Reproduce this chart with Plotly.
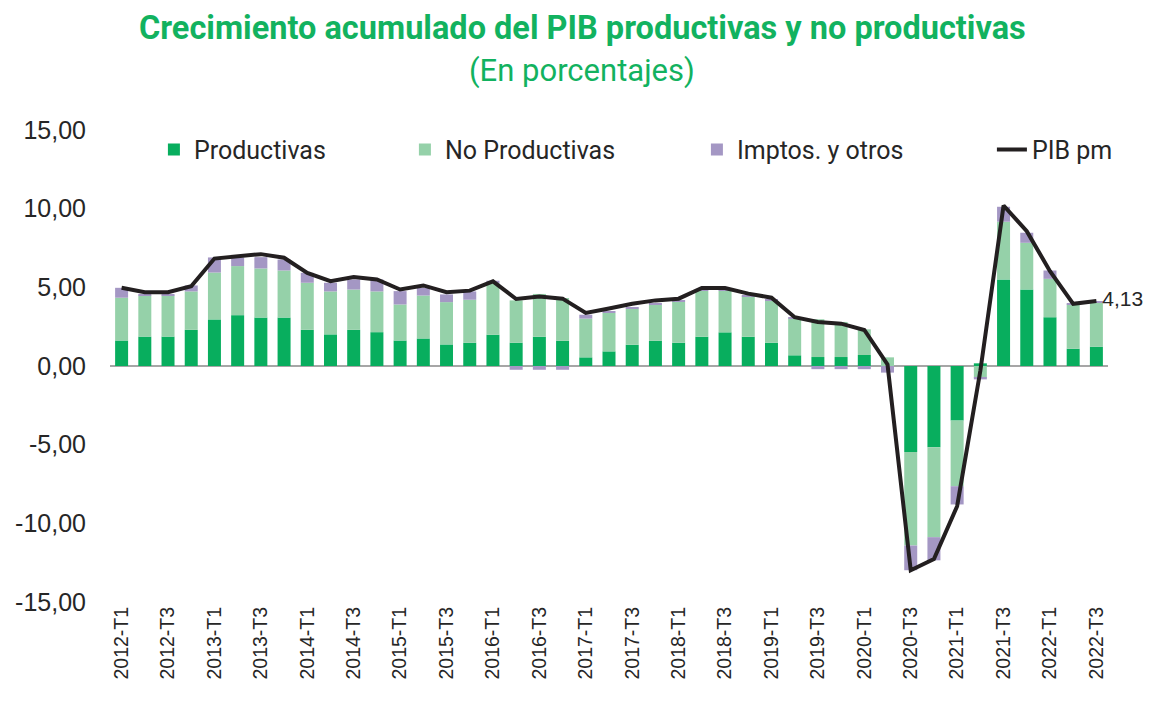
import plotly.graph_objects as go

quarters = [f"{y}-T{q}" for y in range(2012, 2023) for q in range(1, 5)][:43]

productivas = [1.62, 1.87, 1.87, 2.30, 2.96, 3.23, 3.08, 3.08, 2.30, 2.01, 2.30, 2.15,
               1.62, 1.75, 1.37, 1.48, 1.99, 1.48, 1.86, 1.61, 0.55, 0.93, 1.35, 1.61,
               1.48, 1.86, 2.14, 1.86, 1.48, 0.68, 0.57, 0.57, 0.70, 0.00, -5.46, -5.16,
               -3.47, 0.17, 5.50, 4.87, 3.10, 1.10, 1.23]
no_productivas = [2.72, 2.61, 2.61, 2.44, 2.98, 3.12, 3.12, 2.99, 2.99, 2.73, 2.56, 2.59,
                  2.29, 2.73, 2.69, 2.73, 3.28, 2.69, 2.72, 2.71, 2.46, 2.44, 2.29, 2.29,
                  2.59, 2.93, 2.65, 2.56, 2.69, 2.33, 2.40, 2.23, 1.63, 0.55, -5.95, -5.72,
                  -4.17, -0.74, 3.67, 2.96, 2.44, 2.81, 2.82]
imptos = [0.63, 0.10, 0.10, 0.38, 0.96, 0.55, 0.72, 0.70, 0.63, 0.55, 0.64, 0.76,
          0.85, 0.49, 0.49, 0.53, 0.15, -0.24, -0.24, -0.24, 0.25, 0.10, 0.10, 0.10,
          0.10, 0.02, 0.02, 0.05, 0.09, 0.10, -0.20, -0.20, -0.20, -0.42, -1.57, -1.47,
          -1.16, -0.11, 0.95, 0.64, 0.53, 0.07, 0.08]
pib_pm = [4.97, 4.69, 4.69, 5.07, 6.83, 6.98, 7.11, 6.88, 5.92, 5.39, 5.65, 5.50,
          4.86, 5.12, 4.69, 4.79, 5.38, 4.26, 4.42, 4.28, 3.37, 3.66, 3.96, 4.17,
          4.28, 4.96, 4.96, 4.60, 4.34, 3.10, 2.80, 2.69, 2.29, 0.10, -12.98, -12.27,
          -8.91, -0.30, 10.20, 8.57, 6.03, 3.95, 4.13]

y_ticks = [15, 10, 5, 0, -5, -10, -15]
y_tick_text = ["15,00", "10,00", "5,00", "0,00", "-5,00", "-10,00", "-15,00"]

C_PROD = "#08AE5E"
C_NOPROD = "#95D1A9"
C_IMP = "#A497C4"
C_LINE = "#231F20"
C_TITLE = "#12B25F"
C_TEXT = "#262626"

last_label = ["" for _ in pib_pm]
last_label[-1] = "\u00a0" + f"{pib_pm[-1]:.2f}".replace(".", ",")

fig = go.Figure()
fig.add_trace(go.Bar(x=quarters, y=productivas, name="Productivas",
                     marker=dict(color=C_PROD, line=dict(width=0)), legendwidth=206))
fig.add_trace(go.Bar(x=quarters, y=no_productivas, name="No Productivas",
                     marker=dict(color=C_NOPROD, line=dict(width=0)), legendwidth=247))
fig.add_trace(go.Bar(x=quarters, y=imptos, name="Imptos. y otros",
                     marker=dict(color=C_IMP, line=dict(width=0)), legendwidth=250))
fig.add_trace(go.Scatter(x=quarters, y=pib_pm, name="PIB pm", mode="lines+text",
                         line=dict(color=C_LINE, width=4),
                         text=last_label, textposition="middle right",
                         textfont=dict(size=21, color=C_TEXT, family="Liberation Sans"),
                         cliponaxis=False, legendwidth=95))

fig.update_layout(
    width=1152, height=721,
    barmode="relative", bargap=0.44,
    plot_bgcolor="white", paper_bgcolor="white",
    margin=dict(l=102, r=52, t=122, b=127, autoexpand=False),
    showlegend=True,
    legend=dict(orientation="h", x=0.044, y=0.958, xanchor="left", yanchor="middle",
                font=dict(family="Roboto", size=25, color=C_TEXT),
                bgcolor="rgba(0,0,0,0)", itemwidth=30, traceorder="normal"),
    font=dict(family="Liberation Sans", color=C_TEXT),
    annotations=[
        dict(text="<b>Crecimiento acumulado del PIB productivas y no productivas</b>",
             xref="paper", yref="paper", x=0.473, y=1.0, yshift=102, showarrow=False,
             xanchor="center", yanchor="middle",
             font=dict(family="Roboto", size=32.5, color=C_TITLE)),
        dict(text="(En porcentajes)",
             xref="paper", yref="paper", x=0.473, y=1.0, yshift=60, showarrow=False,
             xanchor="center", yanchor="middle",
             font=dict(family="Roboto", size=31, color=C_TITLE)),
    ],
)
fig.update_xaxes(
    type="category", tickangle=-90, tickmode="array",
    tickvals=quarters[::2], ticktext=quarters[::2],
    tickfont=dict(family="Liberation Sans", size=19.5, color=C_TEXT),
    showgrid=False, showline=False, ticks="", range=[-0.5, 42.5], automargin=False,
)
fig.update_yaxes(
    range=[-15, 15], tickmode="array", tickvals=y_ticks, ticktext=y_tick_text,
    tickfont=dict(family="Liberation Sans", size=25, color=C_TEXT),
    showgrid=False, showline=False, zeroline=True, zerolinecolor="#A6A6A6",
    zerolinewidth=2, ticks="outside", ticklen=18, tickcolor="rgba(0,0,0,0)",
    automargin=False,
)

fig.write_html("out.html")
